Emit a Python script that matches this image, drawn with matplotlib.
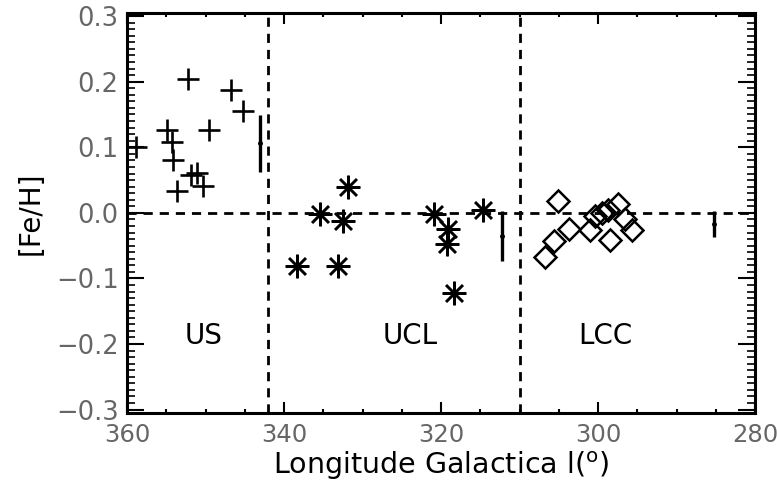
import matplotlib
matplotlib.use("Agg")
import matplotlib.pyplot as plt
from matplotlib.ticker import MultipleLocator, FuncFormatter

# ---- data ----
us_l = [358.8, 352.2, 346.7, 345.2, 354.9, 354.3, 349.5, 354.2, 351.8, 351.1, 350.3, 353.7]
us_fe = [0.101, 0.204, 0.188, 0.156, 0.126, 0.108, 0.126, 0.081, 0.058, 0.061, 0.041, 0.034]

ucl_l = [338.4, 333.1, 335.4, 332.5, 331.8, 320.9, 319.1, 319.3, 318.3, 314.7]
ucl_fe = [-0.081, -0.081, -0.002, -0.012, 0.039, -0.002, -0.025, -0.048, -0.122, 0.004]

lcc_l = [305.1, 306.8, 305.6, 303.7, 301.0, 300.4, 299.5, 298.8, 297.5, 298.5, 296.6, 295.7]
lcc_fe = [0.018, -0.068, -0.043, -0.025, -0.026, -0.005, 0.0, 0.004, 0.013, -0.042, -0.010, -0.026]

# mean values with error bars
mean_l = [343.1, 312.3, 285.3]
mean_fe = [0.106, -0.035, -0.017]
mean_err = [0.043, 0.038, 0.020]

boundaries = [342.0, 310.0]
region_names = ["US", "UCL", "LCC"]
region_x = [350.3, 324.0, 299.1]
region_y = -0.188

xticks = [360, 340, 320, 300, 280]
yticks = [-0.3, -0.2, -0.1, 0.0, 0.1, 0.2, 0.3]

fig = plt.figure(figsize=(7.77, 4.95), dpi=100)
ax = fig.add_axes([0.1635, 0.166, 0.8085, 0.808])

dash = (0, (3.3, 2.5))
ax.axhline(0, color="black", lw=2.0, ls=dash, zorder=1)
for b in boundaries:
    ax.axvline(b, color="black", lw=2.0, ls=dash, zorder=1)

ax.plot(us_l, us_fe, ls="none", marker="+", ms=15.5, mew=1.9, color="black", zorder=3)
ax.plot(ucl_l, ucl_fe, ls="none", marker=(8, 2, 0), ms=17, mew=1.8, color="black", zorder=3)
ax.plot(lcc_l, lcc_fe, ls="none", marker="D", ms=11, mew=1.8, mfc="none", mec="black", zorder=3)

ax.errorbar(mean_l, mean_fe, yerr=mean_err, fmt="o", ms=2.5, color="black",
            elinewidth=2.4, capsize=0, zorder=3)

for name, xv in zip(region_names, region_x):
    ax.text(xv, region_y, name, fontsize=20, ha="center", va="center", color="black")

ax.set_xlim(360, 280)
ax.set_ylim(-0.305, 0.305)
ax.set_xticks(xticks)
ax.set_yticks(yticks)
ax.xaxis.set_minor_locator(MultipleLocator(5))
ax.yaxis.set_minor_locator(MultipleLocator(0.01))


def yfmt(v, pos):
    s = f"{v:.1f}"
    if s == "-0.0":
        s = "0.0"
    return s.replace("-", "\u2212")


ax.yaxis.set_major_formatter(FuncFormatter(yfmt))

ax.tick_params(axis="both", which="both", direction="in", top=True, right=True,
               colors="black", labelcolor="#666666")
ax.tick_params(axis="x", which="major", length=8, width=1.5, pad=7, labelsize=17.5)
ax.tick_params(axis="x", which="minor", length=3, width=1.5)
ax.tick_params(axis="y", which="major", length=12, width=1.5, pad=6, labelsize=18.5)
ax.tick_params(axis="y", which="minor", length=6, width=1.2)

for sp in ax.spines.values():
    sp.set_linewidth(2.2)

ax.set_xlabel(r"Longitude Galactica l($^{\mathrm{o}}$)", fontsize=20.5, labelpad=2)
ax.set_ylabel("[Fe/H]", fontsize=20, labelpad=8)

fig.savefig("out.png", dpi=100)
